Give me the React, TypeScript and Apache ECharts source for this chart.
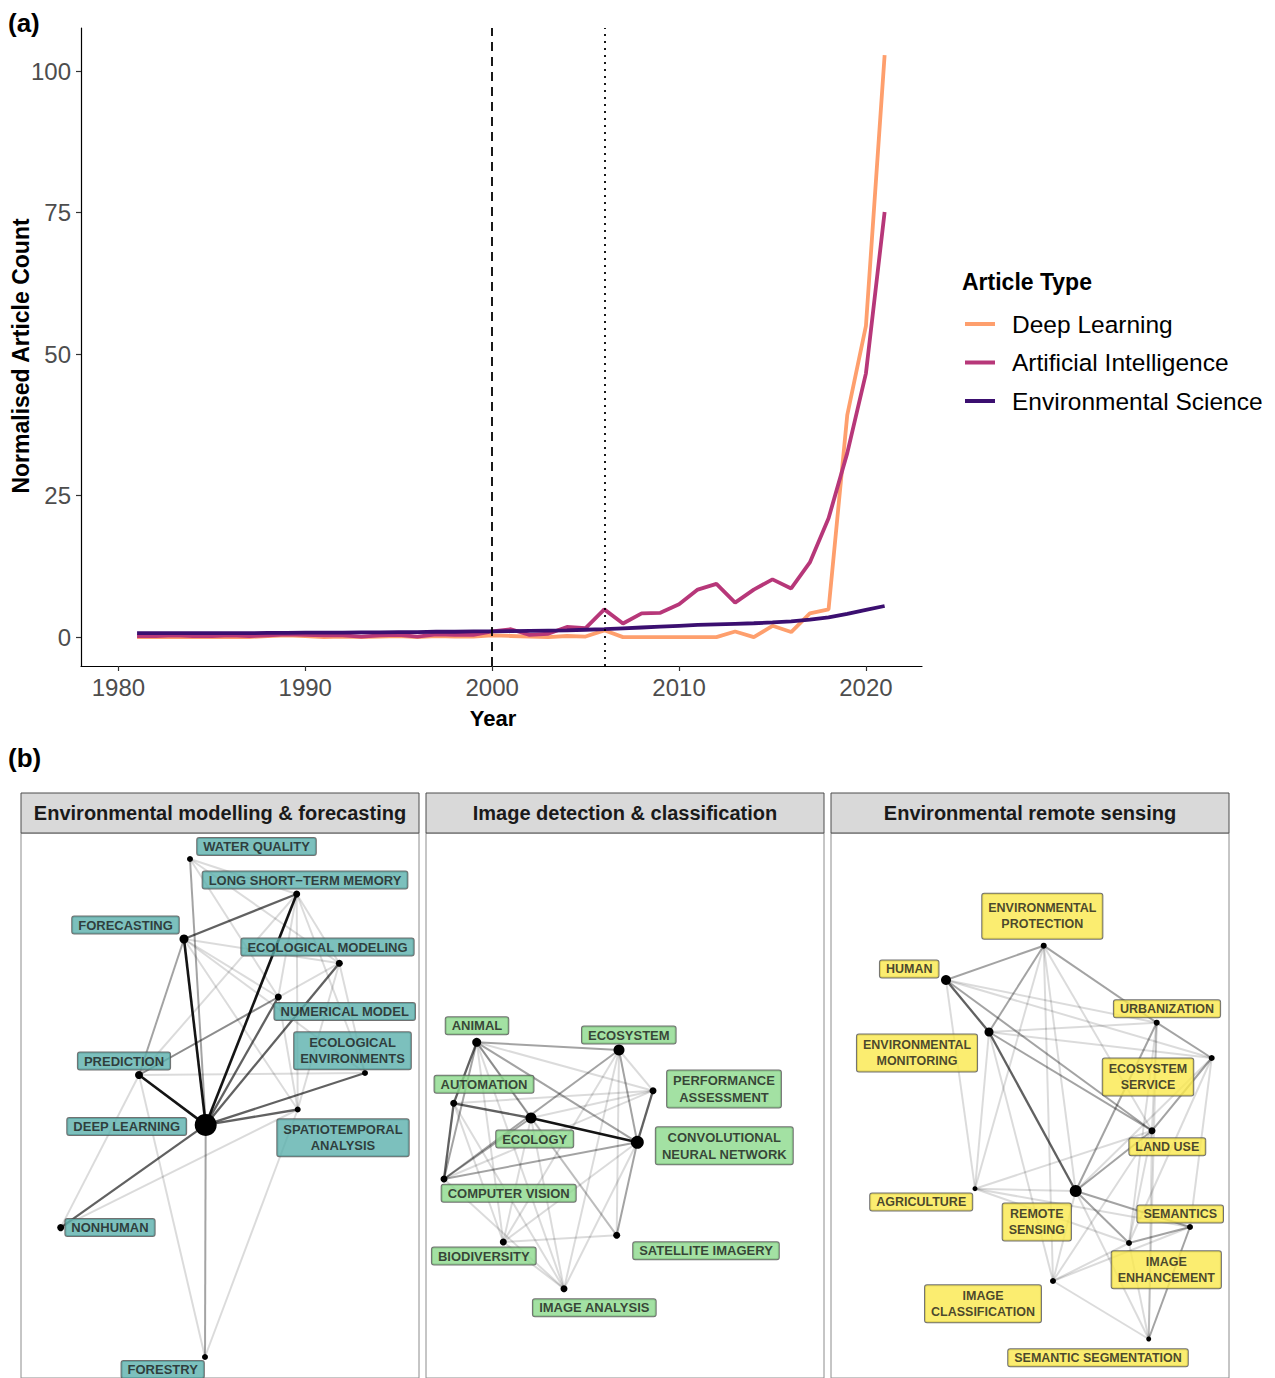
import { useEffect, useRef } from "react";
import * as echarts from "echarts";

const FONT = "'Liberation Sans', Arial, Helvetica, sans-serif";

// ---------- Panel (a) data ----------
const years = [
  1981, 1982, 1983, 1984, 1985, 1986, 1987, 1988, 1989, 1990,
  1991, 1992, 1993, 1994, 1995, 1996, 1997, 1998, 1999, 2000,
  2001, 2002, 2003, 2004, 2005, 2006, 2007, 2008, 2009, 2010,
  2011, 2012, 2013, 2014, 2015, 2016, 2017, 2018, 2019, 2020, 2021,
];
const deepLearning = [
  0, 0, 0, 0, 0, 0, 0, 0.2, 0.3, 0.2,
  0, 0.1, 0, 0.1, 0.2, 0, 0.2, 0.1, 0.1, 0.3,
  0.2, 0.1, 0, 0.2, 0.1, 1.2, 0, 0, 0, 0,
  0, 0, 1.0, 0, 2.0, 0.9, 4.2, 4.9, 39.2, 55, 102.8,
];
const artificialIntelligence = [
  0.2, 0.2, 0.3, 0.2, 0.2, 0.3, 0.2, 0.3, 0.5, 0.4,
  0.3, 0.3, 0.1, 0.3, 0.4, 0.1, 0.5, 0.4, 0.4, 1.0,
  1.4, 0.4, 0.6, 1.8, 1.6, 4.9, 2.4, 4.2, 4.3, 5.8,
  8.4, 9.4, 6.1, 8.4, 10.2, 8.6, 13.2, 21, 32.5, 46.6, 75.1,
];
const environmentalScience = [
  0.7, 0.7, 0.7, 0.7, 0.7, 0.7, 0.7, 0.75, 0.75, 0.8,
  0.8, 0.8, 0.85, 0.85, 0.9, 0.9, 0.95, 0.95, 1.0, 1.0,
  1.05, 1.1, 1.15, 1.2, 1.3, 1.4, 1.55, 1.7, 1.85, 2.0,
  2.15, 2.25, 2.35, 2.45, 2.6, 2.8, 3.1, 3.5, 4.1, 4.8, 5.5,
];
const seriesNames = ["Deep Learning", "Artificial Intelligence", "Environmental Science"];
const seriesColors = ["#FE9F6D", "#B73779", "#3B0F70"];
const xTicks = [1980, 1990, 2000, 2010, 2020];
const yTicks = [0, 25, 50, 75, 100];
const dashedYear = 2000;
const dottedYear = 2006;

// ---------- Panel (b) data ----------
const panelTitles = [
  "Environmental modelling & forecasting",
  "Image detection & classification",
  "Environmental remote sensing",
];
const panelFills = ["#5BB0AC", "#8CDA8C", "#FAE94C"];

// node: [id, label text, x, y, size, labelX, labelY]
const nodesModelling: [string, string, number, number, number, number, number][] = [
  ["WQ", "WATER QUALITY", 169, 26, 6, 235.5, 13.6],
  ["LSTM", "LONG SHORT−TERM MEMORY", 275.7, 61, 7, 284, 47],
  ["FC", "FORECASTING", 163, 106, 9, 104.5, 92],
  ["EM", "ECOLOGICAL MODELING", 318.3, 130.2, 7, 306.5, 114],
  ["NM", "NUMERICAL MODEL", 257.3, 164, 7, 323.7, 178.5],
  ["EE", "ECOLOGICAL\nENVIRONMENTS", 344, 240, 6, 331.5, 217.7],
  ["PR", "PREDICTION", 118, 242, 8, 103, 228],
  ["DL", "DEEP LEARNING", 184.7, 291.9, 22, 105.7, 293.5],
  ["ST", "SPATIOTEMPORAL\nANALYSIS", 276.7, 276.5, 6, 322, 304.7],
  ["NH", "NONHUMAN", 39.7, 394.6, 7, 89, 394.6],
  ["FO", "FORESTRY", 184, 524, 6, 141.7, 536.5],
];
// edge: [source, target, strength 1..4]
const edgesModelling: [string, string, number][] = [
  ["DL", "FC", 4], ["DL", "LSTM", 4], ["DL", "PR", 4], ["DL", "NM", 3],
  ["DL", "EM", 3], ["DL", "EE", 3], ["DL", "ST", 3], ["DL", "NH", 3],
  ["DL", "FO", 2], ["DL", "WQ", 2], ["FC", "LSTM", 3], ["PR", "FC", 2],
  ["PR", "NM", 2], ["PR", "EE", 1], ["PR", "LSTM", 1], ["PR", "FO", 1],
  ["PR", "NH", 1], ["WQ", "LSTM", 1], ["WQ", "EM", 1], ["WQ", "NM", 1],
  ["FC", "EM", 1], ["FC", "NM", 1], ["FC", "ST", 1], ["FC", "EE", 1],
  ["LSTM", "EM", 1], ["LSTM", "ST", 1], ["LSTM", "EE", 1], ["LSTM", "NM", 1],
  ["EM", "ST", 1], ["EM", "PR", 1], ["NH", "ST", 1], ["EE", "EM", 1],
  ["NM", "ST", 1], ["ST", "FO", 1],
];

const nodesImage: [string, string, number, number, number, number, number][] = [
  ["AN", "ANIMAL", 50.7, 209.3, 9, 51, 192.7],
  ["ES", "ECOSYSTEM", 193, 217, 11, 202.8, 202],
  ["PA", "PERFORMANCE\nASSESSMENT", 227, 257.7, 7, 298, 256],
  ["AU", "AUTOMATION", 27.7, 270.3, 7, 58, 251.3],
  ["EC", "ECOLOGY", 105, 285, 11, 108.7, 306],
  ["CNN", "CONVOLUTIONAL\nNEURAL NETWORK", 211.3, 309.3, 13, 298.3, 312.8],
  ["CV", "COMPUTER VISION", 18, 346, 7, 82.7, 360.3],
  ["BD", "BIODIVERSITY", 77.3, 409, 7, 57.8, 423],
  ["SI", "SATELLITE IMAGERY", 190.7, 402.3, 7, 280, 417.7],
  ["IA", "IMAGE ANALYSIS", 138, 455.7, 7, 168.3, 474.8],
];
const edgesImage: [string, string, number][] = [
  ["EC", "CNN", 4], ["AU", "EC", 3], ["AN", "AU", 3], ["AN", "EC", 2],
  ["AN", "CNN", 2], ["AN", "ES", 2], ["AU", "CV", 3], ["AN", "CV", 2],
  ["CV", "CNN", 2], ["CV", "ES", 2], ["ES", "CNN", 2], ["PA", "CNN", 3],
  ["CNN", "SI", 2], ["CV", "EC", 2], ["ES", "SI", 1], ["ES", "BD", 1],
  ["ES", "PA", 1], ["ES", "IA", 1], ["AU", "PA", 1], ["AU", "BD", 1],
  ["AU", "IA", 1], ["CV", "PA", 1], ["BD", "CNN", 1], ["BD", "SI", 1],
  ["BD", "IA", 1], ["IA", "CNN", 1], ["IA", "EC", 1], ["IA", "AN", 1],
  ["CV", "IA", 1], ["EC", "SI", 1], ["AN", "SI", 1], ["EC", "BD", 1],
  ["EC", "PA", 1], ["AN", "BD", 1], ["AN", "PA", 1],
];

const nodesRemote: [string, string, number, number, number, number, number][] = [
  ["EP", "ENVIRONMENTAL\nPROTECTION", 212.7, 112.7, 6, 211.3, 83.2],
  ["HU", "HUMAN", 115, 147, 10, 78.2, 136],
  ["UR", "URBANIZATION", 325.7, 189.7, 6, 336, 175.7],
  ["EMo", "ENVIRONMENTAL\nMONITORING", 158, 199, 9, 86, 220],
  ["ESS", "ECOSYSTEM\nSERVICE", 380.7, 225, 6, 317, 244],
  ["LU", "LAND USE", 321, 297.7, 7, 336.3, 313.8],
  ["AG", "AGRICULTURE", 144, 355.7, 5, 90.2, 369],
  ["RS", "REMOTE\nSENSING", 244.7, 358, 12, 205.8, 389],
  ["SE", "SEMANTICS", 359, 394, 6, 349.2, 381],
  ["IE", "IMAGE\nENHANCEMENT", 298, 410, 6, 335.3, 436.8],
  ["IC", "IMAGE\nCLASSIFICATION", 222, 448, 6, 152, 470.8],
  ["SS", "SEMANTIC SEGMENTATION", 317.7, 506, 5, 267, 524.8],
];
const edgesRemote: [string, string, number][] = [
  ["HU", "EP", 2], ["HU", "EMo", 3], ["EMo", "RS", 3], ["EMo", "LU", 2],
  ["EP", "UR", 2], ["EP", "EMo", 2], ["EP", "RS", 1], ["EP", "LU", 1],
  ["EP", "AG", 1], ["EP", "IC", 1], ["UR", "ESS", 2], ["UR", "RS", 2],
  ["UR", "LU", 1], ["UR", "IE", 1], ["UR", "EMo", 1], ["UR", "HU", 1],
  ["UR", "SS", 1], ["ESS", "LU", 2], ["ESS", "HU", 1], ["ESS", "EMo", 1],
  ["ESS", "IE", 1], ["ESS", "RS", 1], ["ESS", "SE", 1], ["LU", "RS", 2],
  ["LU", "AG", 1], ["LU", "HU", 2], ["LU", "IE", 1], ["LU", "SS", 1],
  ["LU", "IC", 1], ["RS", "SE", 2], ["RS", "IE", 2], ["RS", "AG", 1],
  ["RS", "IC", 1], ["RS", "SS", 1], ["SE", "IE", 2], ["SE", "SS", 2],
  ["SE", "IC", 1], ["IE", "IC", 1], ["IE", "SS", 1], ["AG", "HU", 1],
  ["AG", "IE", 1], ["AG", "SE", 1], ["AG", "EMo", 1], ["IC", "SS", 1],
  ["IC", "EMo", 1],
];

const panels = [
  { nodes: nodesModelling, edges: edgesModelling, fontSize: 13 },
  { nodes: nodesImage, edges: edgesImage, fontSize: 13 },
  { nodes: nodesRemote, edges: edgesRemote, fontSize: 12.5 },
];

// ---------- layout constants ----------
const PANEL_LEFTS = [21, 426, 831];
const PANEL_W = 398;
const PANEL_TOP = 833;
const PANEL_H = 545;
const STRIP_TOP = 793;
const STRIP_H = 40;

const strengthStyle = [
  null,
  { opacity: 0.14, width: 2 },
  { opacity: 0.36, width: 2 },
  { opacity: 0.62, width: 2.3 },
  { opacity: 0.92, width: 2.6 },
];

function buildOption() {
  const lineData = [deepLearning, artificialIntelligence, environmentalScience];

  const grids: any[] = [
    {
      left: 81,
      top: 28,
      width: 841,
      height: 638,
      containLabel: false,
      outerBoundsMode: "none",
    },
  ];
  const xAxes: any[] = [
    {
      type: "value",
      gridIndex: 0,
      min: 1978,
      max: 2023,
      name: "Year",
      nameLocation: "middle",
      nameGap: 41,
      nameMoveOverlap: false,
      nameTextStyle: {
        fontFamily: FONT,
        fontSize: 22,
        fontWeight: "bold",
        color: "#000",
        padding: [0, 17, 0, 0],
      },
      axisLine: { show: true, onZero: false, lineStyle: { color: "#000", width: 1.2 } },
      axisTick: { show: true, length: 5, customValues: xTicks, lineStyle: { color: "#333", width: 1.2 } },
      axisLabel: {
        customValues: xTicks,
        formatter: (v: number) => String(v),
        margin: 9,
        fontFamily: FONT,
        fontSize: 24,
        color: "#4D4D4D",
      },
      splitLine: { show: false },
    },
  ];
  const yAxes: any[] = [
    {
      type: "value",
      gridIndex: 0,
      min: -5.1,
      max: 107.6,
      name: "Normalised Article Count",
      nameLocation: "middle",
      nameGap: 49,
      nameMoveOverlap: false,
      nameTextStyle: {
        fontFamily: FONT,
        fontSize: 23,
        fontWeight: "bold",
        color: "#000",
        padding: [0, 18, 0, 0],
      },
      axisLine: { show: true, onZero: false, lineStyle: { color: "#000", width: 1.2 } },
      axisTick: { show: true, length: 5, customValues: yTicks, lineStyle: { color: "#333", width: 1.2 } },
      axisLabel: {
        customValues: yTicks,
        formatter: (v: number) => String(v),
        margin: 10,
        fontFamily: FONT,
        fontSize: 24,
        color: "#4D4D4D",
      },
      splitLine: { show: false },
    },
  ];

  const series: any[] = [
    {
      type: "line",
      name: "__ref",
      xAxisIndex: 0,
      yAxisIndex: 0,
      data: [],
      z: 1,
      silent: true,
      markLine: {
        silent: true,
        symbol: "none",
        label: { show: false },
        data: [
          { xAxis: dashedYear, lineStyle: { color: "#000", width: 1.8, type: [9, 6] } },
          { xAxis: dottedYear, lineStyle: { color: "#000", width: 1.8, type: [2, 5] } },
        ],
      },
    },
  ];
  seriesNames.forEach((name, i) => {
    series.push({
      type: "line",
      name,
      xAxisIndex: 0,
      yAxisIndex: 0,
      data: years.map((y, j) => [y, lineData[i][j]]),
      showSymbol: false,
      symbol: "none",
      lineStyle: { color: seriesColors[i], width: 3.8 },
      itemStyle: { color: seriesColors[i] },
      z: 2 + i,
    });
  });

  panels.forEach((p, k) => {
    const gi = k + 1;
    grids.push({
      left: PANEL_LEFTS[k],
      top: PANEL_TOP,
      width: PANEL_W,
      height: PANEL_H,
      show: true,
      borderColor: "#8C8C8C",
      borderWidth: 1,
      backgroundColor: "#fff",
      outerBoundsMode: "none",
    });
    xAxes.push({ type: "value", gridIndex: gi, min: 0, max: PANEL_W, show: false });
    yAxes.push({ type: "value", gridIndex: gi, min: 0, max: PANEL_H, inverse: true, show: false });

    series.push({
      type: "graph",
      coordinateSystem: "cartesian2d",
      xAxisIndex: gi,
      yAxisIndex: gi,
      silent: true,
      z: 3,
      symbol: "circle",
      itemStyle: { color: "#000" },
      label: { show: false },
      data: p.nodes.map((n) => ({ name: n[0], value: [n[2], n[3]], symbolSize: n[4] })),
      links: p.edges.map((e) => ({
        source: e[0],
        target: e[1],
        lineStyle: {
          color: "#000",
          opacity: strengthStyle[e[2]]!.opacity,
          width: strengthStyle[e[2]]!.width,
          curveness: 0,
        },
      })),
    });

    series.push({
      type: "scatter",
      xAxisIndex: gi,
      yAxisIndex: gi,
      silent: true,
      z: 5,
      symbolSize: 1,
      itemStyle: { color: "rgba(0,0,0,0)" },
      data: p.nodes.map((n) => {
        const twoLine = n[1].includes("\n");
        const big = n[0] === "EP";
        return {
          name: n[1],
          value: [n[5], n[6]],
          label: {
            lineHeight: twoLine ? 16.5 : 15,
            padding: big ? [6, 6] : twoLine ? [2, 6] : [1, 6],
          },
        };
      }),
      label: {
        show: true,
        position: "inside",
        formatter: "{b}",
        fontFamily: FONT,
        fontSize: p.fontSize,
        fontWeight: "bold",
        color: "#1A1A1A",
        align: "center",
        verticalAlign: "middle",
        backgroundColor: panelFills[k],
        borderColor: "#4D4D4D",
        borderWidth: 1,
        borderRadius: 2,
      },
    });
  });

  const graphics: any[] = [
    { type: "text", left: 8, top: 10, style: { text: "(a)", font: `bold 26px ${FONT}`, fill: "#000" } },
    { type: "text", left: 8, top: 745, style: { text: "(b)", font: `bold 26px ${FONT}`, fill: "#000" } },
    { type: "text", left: 962, top: 270, style: { text: "Article Type", font: `bold 23px ${FONT}`, fill: "#000" } },
  ];
  panelTitles.forEach((t, k) => {
    graphics.push({
      type: "rect",
      shape: { x: PANEL_LEFTS[k], y: STRIP_TOP, width: PANEL_W, height: STRIP_H },
      style: { fill: "#D9D9D9", stroke: "#4D4D4D", lineWidth: 1 },
      z: 10,
    });
    graphics.push({
      type: "text",
      x: PANEL_LEFTS[k] + PANEL_W / 2,
      y: STRIP_TOP + STRIP_H / 2,
      style: {
        text: t,
        font: `bold 20px ${FONT}`,
        fill: "#1A1A1A",
        align: "center",
        verticalAlign: "middle",
      },
      z: 11,
    });
  });

  return {
    animation: false,
    backgroundColor: "#fff",
    grid: grids,
    xAxis: xAxes,
    yAxis: yAxes,
    legend: {
      data: seriesNames,
      orient: "vertical",
      left: 960,
      top: 306,
      icon: "rect",
      itemWidth: 30,
      itemHeight: 4,
      itemGap: 12.5,
      selectedMode: false,
      textStyle: {
        fontFamily: FONT,
        fontSize: 24.5,
        color: "#000",
        lineHeight: 26,
        padding: [0, 0, 0, 12],
      },
    },
    graphic: graphics,
    series,
  };
}

export default function App() {
  const ref = useRef<HTMLDivElement>(null);
  useEffect(() => {
    document.body.style.margin = "0";
    if (!ref.current) return;
    const chart = echarts.init(ref.current, undefined, { renderer: "svg" });
    chart.setOption(buildOption() as any);
    return () => chart.dispose();
  }, []);
  return (
    <div
      ref={ref}
      style={{ position: "absolute", left: 0, top: 0, width: 1275, height: 1378, background: "#fff" }}
    />
  );
}
